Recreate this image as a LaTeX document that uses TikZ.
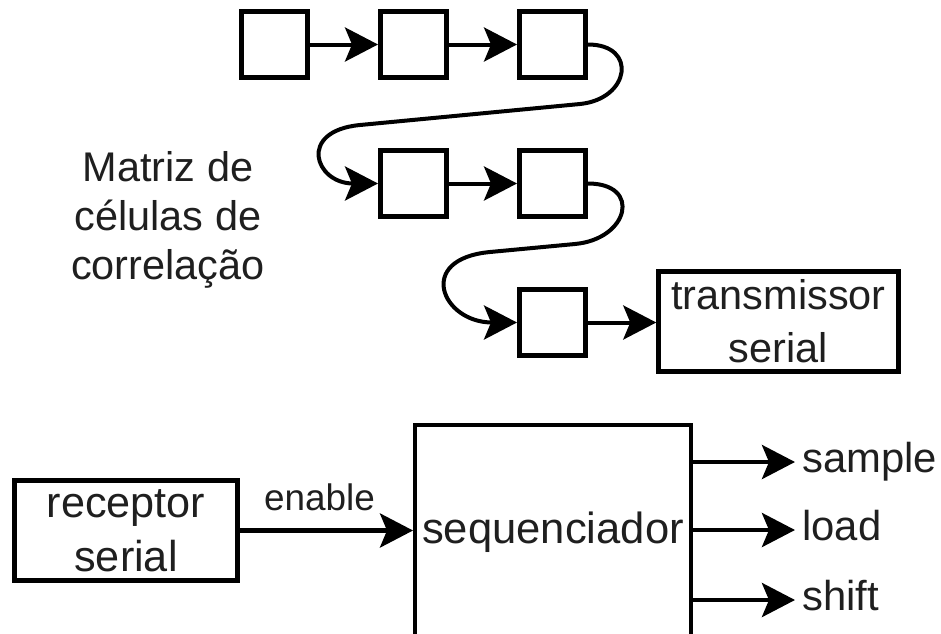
\documentclass[tikz,border=0pt]{standalone}
\usepackage{fontspec}
\setmainfont{Liberation Sans}
\usetikzlibrary{arrows.meta}
\usetikzlibrary{positioning}

\definecolor{inkgray}{gray}{0.12}

\begin{document}
\begin{tikzpicture}
  [
    x=0.02cm, y=-0.02cm,
    cell/.style  = {draw, rectangle, line width=0.1cm, minimum size=1.32cm, inner sep=0pt},
    block/.style = {draw, rectangle, line width=0.09cm, align=center, inner sep=0pt,
                    text=inkgray, font=\fontsize{23.6}{30}\selectfont},
    wire/.style  = {-{Stealth[length=0.66cm 0, width=0.68cm 0, inset=0.14cm 0]}, line width=0.08cm},
    sig/.style   = {anchor=west, inner sep=0pt, inner xsep=0.14cm, text height=0.43cm,
                    text depth=0pt, text=inkgray, font=\fontsize{23.8}{30}\selectfont},
  ]

  \clip (0,0) rectangle (941,633);

  % the cell array
  \def\cellstep{139}

  % first row
  \node (c1) at (274.5,44.5) [cell] {};
  \node (c2) at (274.5+\cellstep,44.5) [cell] {};
  \node (c3) at (274.5+2*\cellstep,44.5) [cell] {};

  % second row
  \node (c4) at (274.5+\cellstep,44.5+\cellstep) [cell] {};
  \node (c5) at (274.5+2*\cellstep,44.5+\cellstep) [cell] {};

  % third row
  \node (c6) at (274.5+2*\cellstep,44.5+2*\cellstep) [cell] {};

  \node (tx) at (778.5,321.5) [block, minimum width=4.8cm, minimum height=2cm] {transmissor\\serial};

  \node (matrix) at (168,220) [align=center, inner sep=0pt, text=inkgray,
    font=\fontsize{23.6}{27.9}\selectfont] {Matriz de\\células de\\correlação};

  % chain inside a row
  \draw[wire] (c1) -- (c2);
  \draw[wire] (c2) -- (c3);
  \draw[wire] (c4) -- (c5);
  \draw[wire] (c6.east) -- (c6.east -| tx.west);

  % wrap from row 1 to row 2
  \coordinate (w1a) at (580,104);
  \coordinate (w1b) at (360,125);
  \draw[wire] (c3.east) .. controls +(50,0) and +(50,-5) .. (w1a) -- (w1b)
    .. controls +(-63,6) and +(-63,0) .. (c4.west);

  % wrap from row 2 to row 3
  \coordinate (w2a) at (575,244);
  \coordinate (w2b) at (490,252);
  \draw[wire] (c5.east) .. controls +(54,0) and +(54,-5) .. (w2a) -- (w2b)
    .. controls +(-75,7) and +(-75,0) .. (c6.west);

  % receiver and sequencer
  \node (rx) at (126,530.5) [block, minimum width=4.46cm, minimum height=2cm,
    font=\fontsize{24.6}{30.5}\selectfont] {receptor\\serial};
  \node (seq) at (553,532.5) [block, line width=0.08cm, minimum width=5.52cm, minimum height=4.3cm,
    font=\fontsize{24.8}{30}\selectfont] {sequenciador};

  \draw[wire, line width=0.09cm] (rx.east) -- node (en) [pos=0.46, above=0.3cm, inner sep=0.05cm,
    text=inkgray, font=\fontsize{21}{25}\selectfont] {enable} (rx.east -| seq.west);

  % sequencer outputs
  \node (sample) at (795,462) [sig] {sample};
  \node (load) at (795,530) [sig] {load};
  \node (shift) at (795,600) [sig] {shift};

  \draw[wire, line width=0.09cm] (sample.west -| seq.east) -- (sample.west);
  \draw[wire, line width=0.09cm] (load.west -| seq.east) -- (load.west);
  \draw[wire, line width=0.09cm] (shift.west -| seq.east) -- (shift.west);
\end{tikzpicture}
\end{document}
